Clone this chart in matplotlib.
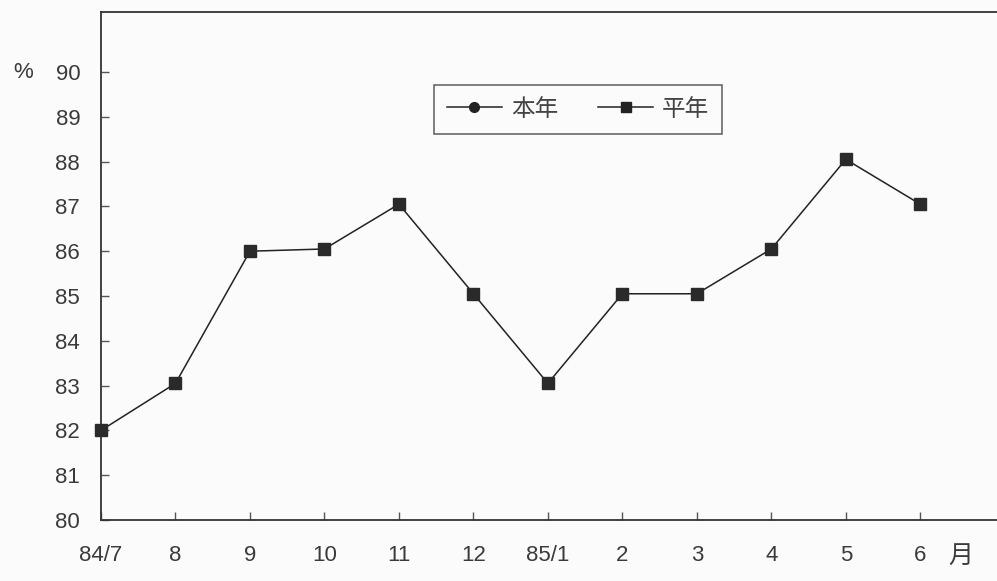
import matplotlib.pyplot as plt
from matplotlib.lines import Line2D

plt.rcParams['font.family'] = ['Liberation Sans', 'Noto Sans CJK SC', 'DejaVu Sans']

months = ['84/7', '8', '9', '10', '11', '12', '85/1', '2', '3', '4', '5', '6']
pingnian = [82.0, 83.05, 86.0, 86.05, 87.05, 85.05, 83.05, 85.05, 85.05, 86.05, 88.05, 87.05]
yticks = [80, 81, 82, 83, 84, 85, 86, 87, 88, 89, 90]

txt = '#3a3a3a'

fig = plt.figure(figsize=(9.97, 5.81), dpi=100)
fig.patch.set_facecolor('#fbfbfb')
ax = fig.add_axes([101 / 997, 61 / 581, 896 / 997, 508 / 581])
ax.set_facecolor('#fbfbfb')

x = list(range(len(months)))
ax.plot(x, pingnian, color='#222222', lw=1.1, marker='s', ms=8,
        mfc='#2a2a2a', mec='#2a2a2a', clip_on=False, zorder=5)

ax.set_xlim(0, 12.03)
ax.set_ylim(80, 91.34)
ax.set_xticks(x)
ax.set_xticklabels(months)
ax.set_yticks(yticks)

ax.tick_params(axis='both', direction='in', length=6, width=1, colors='#555555',
               labelcolor=txt, labelsize=16)
ax.tick_params(axis='x', pad=18)
ax.tick_params(axis='y', pad=15)

ax.spines['right'].set_visible(False)
for s in ['left', 'bottom', 'top']:
    ax.spines[s].set_color('#333333')
    ax.spines[s].set_linewidth(1.3)

ax.text(-1.05, 90, '%', transform=ax.transData, ha='center', va='center',
        fontsize=16, color=txt)
ax.text(11.55, 79.2, '月', transform=ax.transData, ha='center', va='center',
        fontsize=18, color=txt, family=['Noto Sans CJK SC', 'DejaVu Sans'])

h1 = Line2D([], [], color='#222222', lw=1.1, marker='o', ms=7, mfc='#222222')
h2 = Line2D([], [], color='#222222', lw=1.1, marker='s', ms=7, mfc='#222222')
leg = ax.legend([h1, h2], ['本年', '平年'], loc='upper left',
                bbox_to_anchor=(0.372, 0.857), ncol=2, frameon=True, fancybox=False,
                edgecolor='#444444', handlelength=2.3, handletextpad=0.4,
                columnspacing=1.7, borderpad=0.55, borderaxespad=0,
                prop={'family': ['Noto Sans CJK SC', 'DejaVu Sans'], 'size': 17})
leg.get_frame().set_linewidth(1.2)
leg.get_frame().set_facecolor('#fbfbfb')
for t in leg.get_texts():
    t.set_color('#444444')

fig.savefig('out.png', dpi=100, facecolor=fig.get_facecolor())
